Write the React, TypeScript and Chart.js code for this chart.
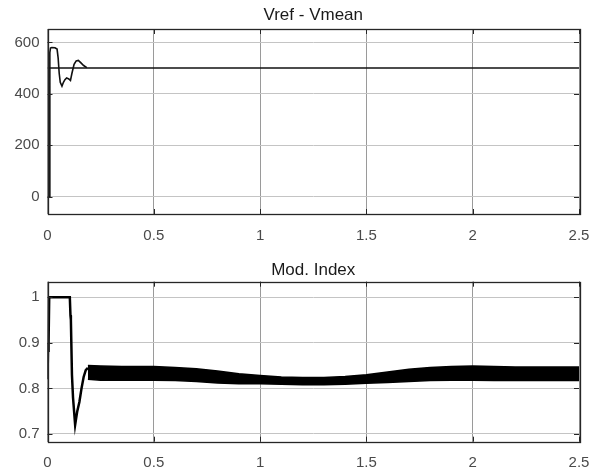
import React, { useEffect, useRef } from "react";
import { Chart, registerables } from "chart.js";

Chart.register(...registerables);

// ---------- data ----------
const xTicks = [0, 0.5, 1, 1.5, 2, 2.5];

const topTitle = "Vref - Vmean";
const topYTicks = [0, 200, 400, 600];
const vrefT = [0, 2.5];
const vrefV = [500, 500];
const vmeanT = [0, 0.008, 0.011, 0.014, 0.02, 0.035, 0.045, 0.05, 0.055, 0.06, 0.068, 0.075, 0.082, 0.09, 0.1, 0.108, 0.115, 0.125, 0.135, 0.145, 0.155, 0.17, 0.185];
const vmeanV = [0, 0, 560, 578, 580, 579, 574, 540, 480, 445, 430, 445, 455, 462, 458, 452, 480, 515, 528, 530, 522, 510, 502];

const botTitle = "Mod. Index";
const botYTicks = [0.7, 0.8, 0.9, 1];
const modT = [0, 0.002, 0.003, 0.004, 0.006, 0.008, 0.105, 0.108, 0.11, 0.115, 0.12, 0.13, 0.14, 0.15, 0.16, 0.17, 0.18, 0.19];
const modV = [0.82, 0.82, 0.9, 0.88, 0.9, 1, 1, 0.96, 0.95, 0.83, 0.78, 0.72, 0.75, 0.77, 0.8, 0.825, 0.84, 0.845];
const bandT = [0.19, 0.25, 0.35, 0.5, 0.6, 0.7, 0.8, 0.9, 1.0, 1.1, 1.2, 1.3, 1.4, 1.5, 1.6, 1.7, 1.8, 1.9, 2.0, 2.1, 2.2, 2.3, 2.4, 2.5];
const bandUpper = [0.85, 0.849, 0.848, 0.848, 0.846, 0.843, 0.838, 0.832, 0.828, 0.825, 0.824, 0.824, 0.826, 0.83, 0.836, 0.842, 0.846, 0.848, 0.849, 0.848, 0.847, 0.847, 0.847, 0.847];
const bandLower = [0.82, 0.818, 0.818, 0.818, 0.817, 0.815, 0.812, 0.81, 0.81, 0.809, 0.808, 0.808, 0.809, 0.811, 0.813, 0.815, 0.817, 0.818, 0.818, 0.817, 0.817, 0.817, 0.817, 0.817];

const FONT = '"Liberation Sans", Arial, sans-serif';

const zip = (t: number[], v: number[]) => t.map((x, i) => ({ x, y: v[i] }));

const framePlugin = {
  id: "frame",
  afterDraw(chart: any, _args: any, opts: any) {
    const { ctx, chartArea: a } = chart;
    const xs = chart.scales.x;
    const ys = chart.scales.y;
    ctx.save();
    ctx.strokeStyle = "#262626";
    ctx.lineWidth = 1;
    const tl = 5;
    ctx.beginPath();
    xTicks.forEach((v) => {
      const px = Math.round(xs.getPixelForValue(v)) + 0.5;
      ctx.moveTo(px, a.bottom);
      ctx.lineTo(px, a.bottom - tl);
      ctx.moveTo(px, a.top);
      ctx.lineTo(px, a.top + tl);
    });
    (opts.yTicks as number[]).forEach((v) => {
      const py = Math.round(ys.getPixelForValue(v)) + 0.5;
      ctx.moveTo(a.left, py);
      ctx.lineTo(a.left + tl, py);
      ctx.moveTo(a.right, py);
      ctx.lineTo(a.right - tl, py);
    });
    ctx.stroke();
    ctx.lineWidth = 1.3;
    ctx.strokeRect(Math.round(a.left) + 0.5, Math.round(a.top) + 0.5, Math.round(a.right - a.left), Math.round(a.bottom - a.top));
    ctx.fillStyle = "#1a1a1a";
    ctx.font = `17px ${FONT}`;
    ctx.textAlign = "center";
    ctx.textBaseline = "alphabetic";
    ctx.fillText(opts.text, (a.left + a.right) / 2, a.top - opts.titleGap);
    ctx.restore();
  },
};

function makeOptions(yMin: number, yMax: number, yTicks: number[], text: string, titleGap: number, top: number, xH: number, xPad: number): any {
  return {
    responsive: false,
    animation: false,
    events: [],
    layout: { padding: { left: 0, right: 11, top, bottom: 0 } },
    plugins: {
      legend: { display: false },
      title: { display: false },
      tooltip: { enabled: false },
      frame: { text, titleGap, yTicks },
    },
    elements: { point: { radius: 0 }, line: { tension: 0 } },
    scales: {
      x: {
        type: "linear",
        min: 0,
        max: 2.5,
        afterBuildTicks: (s: any) => {
          s.ticks = xTicks.map((v) => ({ value: v }));
        },
        afterFit: (s: any) => {
          s.height = xH;
          s.paddingLeft = 0;
          s.paddingRight = 0;
        },
        border: { display: false },
        grid: { color: "#9a9a9a", lineWidth: 1, drawTicks: false },
        ticks: {
          color: "#4a4a4a",
          font: { family: FONT, size: 15 },
          padding: xPad,
          maxRotation: 0,
          callback: (v: any) => String(v),
        },
      },
      y: {
        type: "linear",
        min: yMin,
        max: yMax,
        afterBuildTicks: (s: any) => {
          s.ticks = yTicks.map((v) => ({ value: v }));
        },
        afterFit: (s: any) => {
          s.width = 47.5;
          s.paddingTop = 0;
          s.paddingBottom = 0;
        },
        border: { display: false },
        grid: { color: "#c4c4c4", lineWidth: 1, drawTicks: false },
        ticks: {
          color: "#4a4a4a",
          font: { family: FONT, size: 15 },
          padding: 8,
          callback: (v: any) => String(v),
        },
      },
    },
  };
}

function TopChart() {
  const ref = useRef<HTMLCanvasElement>(null);
  useEffect(() => {
    const chart = new Chart(ref.current as HTMLCanvasElement, {
      type: "line",
      data: {
        datasets: [
          { data: zip(vrefT, vrefV), borderColor: "#111", borderWidth: 1.5, fill: false },
          { data: zip(vmeanT, vmeanV), borderColor: "#111", borderWidth: 1.6, fill: false },
        ],
      },
      options: makeOptions(-67, 652, topYTicks, topTitle, 9.5, 29, 36, 13),
      plugins: [framePlugin],
    } as any);
    return () => chart.destroy();
  }, []);
  return <canvas ref={ref} width={590} height={250} style={{ position: "absolute", left: 0, top: 0 }} />;
}

function BottomChart() {
  const ref = useRef<HTMLCanvasElement>(null);
  useEffect(() => {
    const chart = new Chart(ref.current as HTMLCanvasElement, {
      type: "line",
      data: {
        datasets: [
          { data: zip(modT, modV), borderColor: "#000", borderWidth: 2.5, fill: false },
          { data: zip(bandT, bandUpper), borderColor: "#000", borderWidth: 1.5, backgroundColor: "#000", fill: "+1" },
          { data: zip(bandT, bandLower), borderColor: "#000", borderWidth: 1.5, fill: false },
        ],
      },
      options: makeOptions(0.683, 1.034, botYTicks, botTitle, 6.5, 31.7, 31.3, 12),
      plugins: [framePlugin],
    } as any);
    return () => chart.destroy();
  }, []);
  return <canvas ref={ref} width={590} height={223} style={{ position: "absolute", left: 0, top: 250 }} />;
}

export default function App() {
  return (
    <div style={{ position: "absolute", left: 0, top: 0, width: 590, height: 473, background: "#fff", overflow: "hidden" }}>
      <TopChart />
      <BottomChart />
    </div>
  );
}
